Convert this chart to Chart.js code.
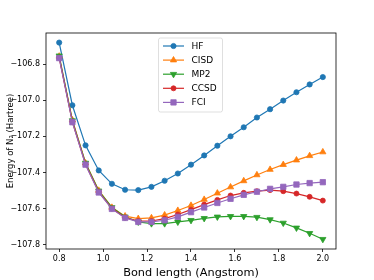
<!DOCTYPE html>
<html>
<head>
<meta charset="utf-8">
<script src="https://cdn.jsdelivr.net/npm/chart.js"></script>
<style>
  html, body { margin: 0; padding: 0; background: #fff; }
  canvas { display: block; }
</style>
</head>
<body>
<canvas id="chart" width="374" height="280"></canvas>
<script>
// bond length (Angstrom) and energies (Hartree) per method
var bondLengths = [0.80, 0.86, 0.92, 0.98, 1.04, 1.10, 1.16, 1.22, 1.28, 1.34, 1.40,
                   1.46, 1.52, 1.58, 1.64, 1.70, 1.76, 1.82, 1.88, 1.94, 2.00];
var hfEnergy   = [-106.681, -107.028, -107.250, -107.389, -107.463, -107.496, -107.498, -107.480, -107.446, -107.406, -107.357,
                  -107.306, -107.252, -107.200, -107.150, -107.096, -107.050, -107.002, -106.956, -106.913, -106.872];
var cisdEnergy = [-106.757, -107.110, -107.348, -107.500, -107.594, -107.642, -107.656, -107.652, -107.636, -107.611, -107.583,
                  -107.550, -107.515, -107.481, -107.447, -107.414, -107.384, -107.357, -107.332, -107.308, -107.287];
var mp2Energy  = [-106.754, -107.113, -107.348, -107.502, -107.594, -107.646, -107.674, -107.683, -107.683, -107.674, -107.665,
                  -107.654, -107.646, -107.643, -107.643, -107.648, -107.661, -107.680, -107.707, -107.737, -107.770];
var ccsdEnergy = [-106.765, -107.120, -107.355, -107.508, -107.600, -107.650, -107.669, -107.669, -107.656, -107.633, -107.606,
                  -107.578, -107.552, -107.528, -107.513, -107.504, -107.498, -107.504, -107.517, -107.535, -107.556];
var fciEnergy  = [-106.767, -107.122, -107.357, -107.511, -107.602, -107.652, -107.674, -107.674, -107.665, -107.646, -107.620,
                  -107.594, -107.569, -107.546, -107.524, -107.507, -107.491, -107.480, -107.467, -107.459, -107.454];

var xTicks = [0.8, 1.0, 1.2, 1.4, 1.6, 1.8, 2.0];
var yTicks = [-107.8, -107.6, -107.4, -107.2, -107.0, -106.8];

var FONT = 'DejaVu Sans';

function points(values) {
    return bondLengths.map(function (x, i) { return { x: x, y: values[i] }; });
}

function series(label, values, color, style, radius, rotation, order) {
    return {
        label: label,
        data: points(values),
        borderColor: color,
        backgroundColor: color,
        borderWidth: 1.2,
        pointStyle: style,
        pointRadius: radius,
        pointRotation: rotation,
        pointBorderWidth: 0.8,
        pointBackgroundColor: color,
        pointBorderColor: color,
        tension: 0,
        order: order
    };
}

// frame around the plot area, like the matplotlib spines
var framePlugin = {
    id: 'frame',
    afterDraw: function (chart) {
        var a = chart.chartArea, ctx = chart.ctx;
        ctx.save();
        ctx.strokeStyle = '#000';
        ctx.lineWidth = 0.8;
        ctx.strokeRect(a.left, a.top, a.right - a.left, a.bottom - a.top);
        ctx.restore();
    }
};

// legend box drawn inside the plot, upper centre
var legendPlugin = {
    id: 'boxLegend',
    afterDraw: function (chart) {
        var ctx = chart.ctx;
        var bx = 158.5, by = 38, bw = 64, bh = 74;
        ctx.save();
        ctx.fillStyle = 'rgba(255,255,255,0.8)';
        ctx.strokeStyle = 'rgba(204,204,204,0.8)';
        ctx.lineWidth = 0.8;
        ctx.beginPath();
        if (ctx.roundRect) ctx.roundRect(bx, by, bw, bh, 2); else ctx.rect(bx, by, bw, bh);
        ctx.fill();
        ctx.stroke();

        ctx.font = '9px "' + FONT + '"';
        ctx.textBaseline = 'middle';
        chart.data.datasets.forEach(function (ds, i) {
            var y = 46 + i * 14.1;
            ctx.strokeStyle = ds.borderColor;
            ctx.lineWidth = ds.borderWidth;
            ctx.beginPath();
            ctx.moveTo(163, y);
            ctx.lineTo(184, y);
            ctx.stroke();
            ctx.fillStyle = ds.pointBackgroundColor;
            ctx.lineWidth = ds.pointBorderWidth;
            Chart.helpers.drawPoint(ctx, {
                pointStyle: ds.pointStyle,
                rotation: ds.pointRotation,
                radius: ds.pointRadius,
                borderWidth: ds.pointBorderWidth
            }, 173.5, y);
            ctx.fillStyle = '#000';
            ctx.fillText(ds.label, 191.5, y + 0.5);
        });
        ctx.restore();
    }
};

var config = {
    type: 'line',
    data: {
        datasets: [
            series('HF', hfEnergy, '#1f77b4', 'circle', 2.6, 0, 5),
            series('CISD', cisdEnergy, '#ff7f0e', 'triangle', 3.6, 0, 4),
            series('MP2', mp2Energy, '#2ca02c', 'triangle', 3.6, 180, 3),
            series('CCSD', ccsdEnergy, '#d62728', 'circle', 2.5, 0, 2),
            series('FCI', fciEnergy, '#9467bd', 'rect', 3.8, 0, 1)
        ]
    },
    options: {
        responsive: false,
        animation: false,
        layout: { padding: { left: 0, right: 38, top: 33, bottom: 0 } },
        plugins: {
            legend: { display: false },
            tooltip: { enabled: false }
        },
        scales: {
            x: {
                type: 'linear',
                min: 0.74,
                max: 2.06,
                afterBuildTicks: function (scale) {
                    scale.ticks = xTicks.map(function (v) { return { value: v }; });
                },
                afterFit: function (scale) { scale.height = 31; },
                grid: { drawOnChartArea: false, tickLength: 3, color: '#000', lineWidth: 0.8 },
                border: { display: false },
                ticks: {
                    color: '#000',
                    padding: 2,
                    maxRotation: 0,
                    font: { family: FONT, size: 8 },
                    callback: function (v) { return v.toFixed(1); }
                },
                title: {
                    display: true,
                    text: 'Bond length (Angstrom)',
                    color: '#000',
                    padding: 0,
                    font: { family: FONT, size: 11.3 }
                }
            },
            y: {
                type: 'linear',
                min: -107.824,
                max: -106.628,
                afterBuildTicks: function (scale) {
                    scale.ticks = yTicks.map(function (v) { return { value: v }; });
                },
                afterFit: function (scale) { scale.width = 46; },
                grid: { drawOnChartArea: false, tickLength: 3, color: '#000', lineWidth: 0.8 },
                border: { display: false },
                ticks: {
                    color: '#000',
                    padding: 3,
                    font: { family: FONT, size: 8 },
                    callback: function (v) { return '\u2212' + Math.abs(v).toFixed(1); }
                },
                title: {
                    display: true,
                    text: 'Energy of N\u2082 (Hartree)',
                    color: '#000',
                    padding: { top: 6, bottom: 0 },
                    font: { family: FONT, size: 8.5 }
                }
            }
        }
    },
    plugins: [framePlugin, legendPlugin]
};

var ctx = document.getElementById('chart').getContext('2d');
var energyChart = new Chart(ctx, config);
</script>
</body>
</html>
